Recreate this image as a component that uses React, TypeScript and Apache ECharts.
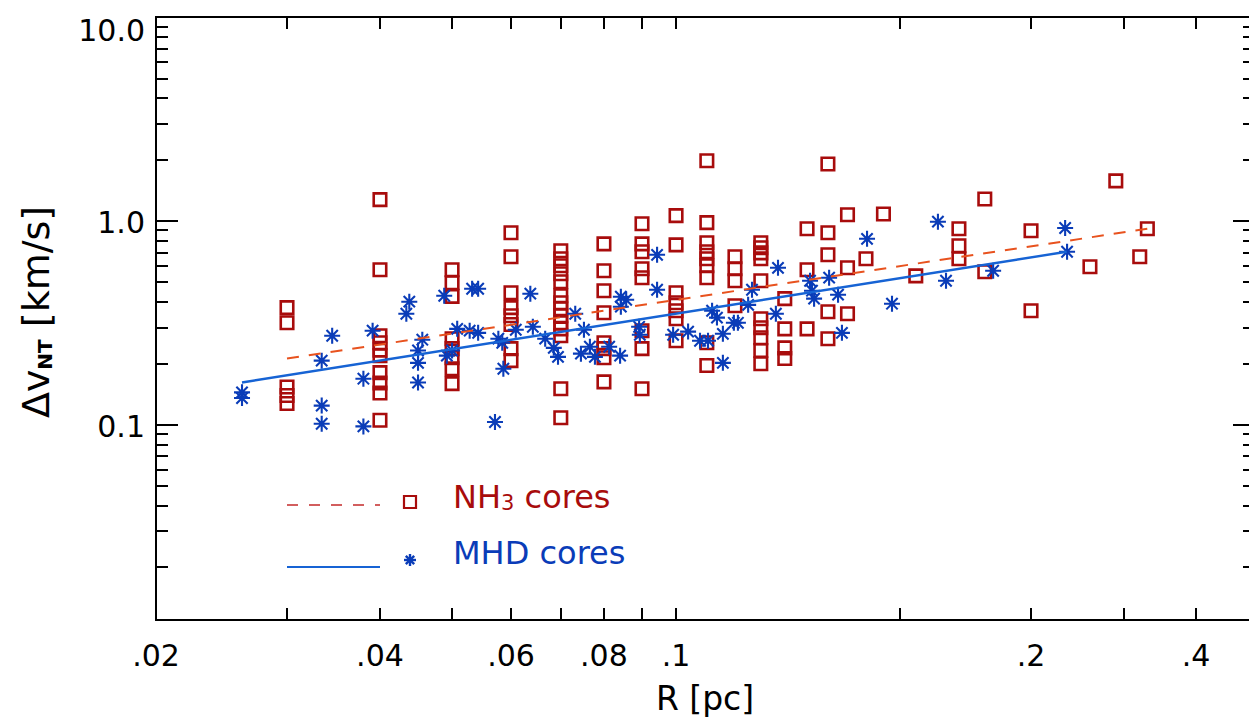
import React, { useEffect, useRef } from "react";
import * as echarts from "echarts";

// ---- axis ticks ----
const xTickValues = [0.02, 0.03, 0.04, 0.05, 0.06, 0.07, 0.08, 0.09, 0.1, 0.2, 0.3, 0.4, 0.5];
const xLabelValues = [0.02, 0.04, 0.06, 0.08, 0.1, 0.3, 0.5];
const xLabelTexts = [".02", ".04", ".06", ".08", ".1", ".2", ".4"];
const yMajorValues = [0.1, 1, 10];
const yMajorTexts = ["0.1", "1.0", "10.0"];
const yMinorValues = [
  0.02, 0.03, 0.04, 0.05, 0.06, 0.07, 0.08, 0.09,
  0.2, 0.3, 0.4, 0.5, 0.6, 0.7, 0.8, 0.9,
  2, 3, 4, 5, 6, 7, 8, 9,
];
const xRange = [0.02, 0.6];
const yRange = [0.011, 10];

// ---- NH3 cores (squares) ----
const nh3R = [
  0.03, 0.03, 0.03, 0.03, 0.03,
  0.04, 0.04, 0.04, 0.04, 0.04, 0.04, 0.04, 0.04, 0.04, 0.04,
  0.05, 0.05, 0.05, 0.05, 0.05, 0.05, 0.05, 0.05,
  0.06, 0.06, 0.06, 0.06, 0.06, 0.06, 0.06, 0.06,
  0.07, 0.07, 0.07, 0.07, 0.07, 0.07, 0.07, 0.07, 0.07, 0.07, 0.07, 0.07, 0.07, 0.07,
  0.08, 0.08, 0.08, 0.08, 0.08, 0.08, 0.08, 0.08,
  0.09, 0.09, 0.09, 0.09, 0.09, 0.09, 0.09, 0.09,
  0.1, 0.1, 0.1, 0.1, 0.1, 0.1, 0.1,
  0.11, 0.11, 0.11, 0.11, 0.11, 0.11, 0.11, 0.11, 0.11,
  0.12, 0.12, 0.12, 0.12,
  0.13, 0.13, 0.13, 0.13, 0.13, 0.13, 0.13, 0.13, 0.13, 0.13,
  0.14, 0.14, 0.14, 0.14,
  0.15, 0.15, 0.15,
  0.16, 0.16, 0.16, 0.16, 0.16,
  0.17, 0.17, 0.17,
  0.18, 0.19, 0.21,
  0.24, 0.24, 0.24,
  0.26, 0.26,
  0.3, 0.3,
  0.36, 0.39, 0.42, 0.43,
];
const nh3V = [
  0.375, 0.316, 0.153, 0.139, 0.127,
  1.27, 0.575, 0.273, 0.252, 0.232, 0.218, 0.180, 0.160, 0.143, 0.105,
  0.575, 0.497, 0.426, 0.264, 0.236, 0.213, 0.188, 0.159,
  0.874, 0.666, 0.444, 0.375, 0.342, 0.310, 0.236, 0.206,
  0.713, 0.651, 0.602, 0.550, 0.502, 0.429, 0.396, 0.370, 0.342, 0.316, 0.295, 0.273, 0.150, 0.108,
  0.771, 0.569, 0.454, 0.354, 0.252, 0.236, 0.213, 0.162,
  0.967, 0.771, 0.705, 0.582, 0.526, 0.289, 0.236, 0.150,
  1.06, 0.762, 0.444, 0.396, 0.362, 0.331, 0.258,
  1.97, 0.98, 0.780, 0.705, 0.651, 0.602, 0.526, 0.252, 0.195,
  0.666, 0.582, 0.508, 0.383,
  0.780, 0.738, 0.696, 0.651, 0.508, 0.331, 0.299, 0.267, 0.231, 0.199,
  0.415, 0.295, 0.238, 0.211,
  0.914, 0.575, 0.295,
  1.90, 0.874, 0.681, 0.358, 0.264,
  1.07, 0.588, 0.350,
  0.651, 1.08, 0.537,
  0.914, 0.754, 0.651,
  1.28, 0.562,
  0.894, 0.362,
  0.595, 1.57, 0.666, 0.914,
];

// ---- MHD cores (asterisks) ----
const mhdR = [
  0.0261, 0.0261, 0.0334, 0.0334, 0.0334, 0.0345, 0.038, 0.038, 0.0391,
  0.0434, 0.0438, 0.045, 0.045, 0.045, 0.0456, 0.0488, 0.0508, 0.05, 0.0492,
  0.0532, 0.0542, 0.0528, 0.0542, 0.0577, 0.0584, 0.0586, 0.0571,
  0.0609, 0.0637, 0.0642, 0.0667, 0.0685, 0.0694,
  0.0732, 0.0752, 0.0745, 0.0766, 0.0778, 0.0813, 0.0841,
  0.0843, 0.0857, 0.0843, 0.0943, 0.0943, 0.0892, 0.0894,
  0.0991, 0.1038, 0.1077, 0.1104, 0.1118, 0.1135, 0.1156, 0.1156,
  0.1196, 0.1211, 0.125, 0.1265, 0.1362, 0.1371,
  0.1514, 0.1523, 0.1533, 0.1606, 0.1651, 0.1671, 0.1806, 0.1951,
  0.2249, 0.2306, 0.2668, 0.3334, 0.3354,
];
const mhdV = [
  0.144, 0.135, 0.206, 0.124, 0.101, 0.273, 0.168, 0.098, 0.289,
  0.350, 0.401, 0.231, 0.201, 0.161, 0.261, 0.429, 0.295, 0.231, 0.218,
  0.464, 0.464, 0.289, 0.282, 0.264, 0.252, 0.188, 0.103,
  0.292, 0.439, 0.302, 0.264, 0.238, 0.215,
  0.350, 0.292, 0.223, 0.241, 0.215, 0.241, 0.218,
  0.424, 0.410, 0.379, 0.681, 0.459, 0.302, 0.276,
  0.276, 0.286, 0.258, 0.258, 0.362, 0.335, 0.279, 0.201,
  0.316, 0.316, 0.387, 0.459, 0.350, 0.588,
  0.508, 0.454, 0.415, 0.526, 0.434, 0.282, 0.816, 0.392,
  0.99, 0.508, 0.569, 0.922, 0.705,
];

// ---- power-law fits ----
const nh3FitR = [0.03, 0.43];
const nh3FitV = [0.211, 0.914];
const mhdFitR = [0.0261, 0.335];
const mhdFitV = [0.161, 0.705];

const FONT = "DejaVu Sans";
const RED = "#a80c0c";
const BLUE = "#0a3cb8";
const FIT_RED = "#e8521e";
const FIT_BLUE = "#1663d4";
const STAR = "path://M0,5L10,5M5,0L5,10M1.46,1.46L8.54,8.54M1.46,8.54L8.54,1.46";

const lg = (v: number) => Math.log10(v);
const pick = (vals: number[], texts: string[], v: number) => {
  for (let i = 0; i < vals.length; i++) if (Math.abs(lg(vals[i]) - v) < 1e-6) return texts[i];
  return "";
};

export default function App() {
  const ref = useRef<HTMLDivElement>(null);
  useEffect(() => {
    if (!ref.current) return;
    const chart = echarts.init(ref.current, undefined, { renderer: "svg" });
    const axisLine = { show: true, onZero: false, lineStyle: { color: "#000", width: 2 } };
    const xBase = {
      type: "value",
      min: lg(xRange[0]),
      max: lg(xRange[1]),
      axisLine,
      splitLine: { show: false },
      axisTick: {
        show: true,
        inside: true,
        length: 12,
        customValues: xTickValues.map(lg),
        lineStyle: { color: "#000", width: 2 },
      },
    };
    const yBase = {
      type: "value",
      min: lg(yRange[0]),
      max: lg(yRange[1]),
      axisLine,
      splitLine: { show: false },
    };
    const majorTick = {
      show: true,
      inside: true,
      length: 22,
      customValues: yMajorValues.map(lg),
      lineStyle: { color: "#000", width: 2 },
    };
    const minorTick = {
      show: true,
      inside: true,
      length: 12,
      customValues: yMinorValues.map(lg),
      lineStyle: { color: "#000", width: 2 },
    };
    const starLines = [
      [-6, 0, 6, 0],
      [0, -6, 0, 6],
      [-4.2, -4.2, 4.2, 4.2],
      [-4.2, 4.2, 4.2, -4.2],
    ];
    const option = {
      animation: false,
      grid: { left: 156, top: 17, width: 1099, height: 603, containLabel: false, outerBoundsMode: "none" },
      xAxis: [
        {
          ...xBase,
          position: "bottom",
          axisLabel: {
            show: true,
            customValues: xLabelValues.map(lg),
            formatter: (v: number) => pick(xLabelValues, xLabelTexts, v),
            fontFamily: FONT,
            fontSize: 30,
            color: "#000",
            margin: 20,
          },
        },
        { ...xBase, position: "top", axisLabel: { show: false } },
      ],
      yAxis: [
        {
          ...yBase,
          position: "left",
          axisTick: majorTick,
          axisLabel: {
            show: true,
            customValues: yMajorValues.map(lg),
            formatter: (v: number) => {
              const t = pick(yMajorValues, yMajorTexts, v);
              return Math.abs(v - 1) < 1e-6 ? `{top|${t}}` : `{n|${t}}`;
            },
            fontFamily: FONT,
            fontSize: 30,
            color: "#000",
            margin: 11,
            rich: {
              top: { fontFamily: FONT, fontSize: 30, color: "#000", padding: [26, 0, 0, 0] },
              n: { fontFamily: FONT, fontSize: 30, color: "#000", padding: [4, 0, 0, 0] },
            },
          },
        },
        { ...yBase, position: "left", axisTick: minorTick, axisLabel: { show: false } },
        { ...yBase, position: "right", axisTick: majorTick, axisLabel: { show: false } },
        { ...yBase, position: "right", axisTick: minorTick, axisLabel: { show: false } },
      ],
      series: [
        {
          name: "NH3 cores",
          type: "scatter",
          symbol: "rect",
          symbolSize: 12.5,
          itemStyle: { color: "rgba(0,0,0,0)", borderColor: RED, borderWidth: 2.6, opacity: 1 },
          data: nh3R.map((r, i) => [lg(r), lg(nh3V[i])]),
          z: 2,
        },
        {
          name: "MHD cores",
          type: "scatter",
          symbol: STAR,
          symbolSize: 16,
          itemStyle: { color: BLUE, borderColor: BLUE, borderWidth: 2.1, opacity: 1 },
          data: mhdR.map((r, i) => [lg(r), lg(mhdV[i])]),
          z: 3,
        },
        {
          name: "NH3 fit",
          type: "line",
          showSymbol: false,
          symbol: "none",
          lineStyle: { color: FIT_RED, width: 2, type: [12, 10] },
          data: nh3FitR.map((r, i) => [lg(r), lg(nh3FitV[i])]),
          z: 4,
        },
        {
          name: "MHD fit",
          type: "line",
          showSymbol: false,
          symbol: "none",
          lineStyle: { color: FIT_BLUE, width: 2.4 },
          data: mhdFitR.map((r, i) => [lg(r), lg(mhdFitV[i])]),
          z: 4,
        },
      ],
      graphic: [
        // legend: NH3
        { type: "line", shape: { x1: 287, y1: 505, x2: 380, y2: 505 }, style: { stroke: "#c42a2a", lineWidth: 1.6, lineDash: [11, 11] } },
        { type: "rect", shape: { x: 404, y: 496, width: 12, height: 12 }, style: { fill: "none", stroke: RED, lineWidth: 2.2 } },
        {
          type: "text",
          x: 453,
          y: 497,
          style: {
            text: "{a|NH}{s|3}{a| cores}",
            fill: RED,
            verticalAlign: "middle",
            align: "left",
            rich: {
              a: { fontFamily: FONT, fontSize: 32, fill: RED, lineHeight: 32 },
              s: { fontFamily: FONT, fontSize: 21, fill: RED, lineHeight: 10, verticalAlign: "bottom" },
            },
          },
        },
        // legend: MHD
        { type: "line", shape: { x1: 287, y1: 567, x2: 380, y2: 567 }, style: { stroke: FIT_BLUE, lineWidth: 2 } },
        {
          type: "group",
          x: 410,
          y: 560,
          children: starLines.map((s) => ({
            type: "line",
            shape: { x1: s[0], y1: s[1], x2: s[2], y2: s[3] },
            style: { stroke: BLUE, lineWidth: 2.4 },
          })),
        },
        {
          type: "text",
          x: 453,
          y: 553,
          style: { text: "MHD cores", fill: BLUE, fontFamily: FONT, fontSize: 32, verticalAlign: "middle", align: "left" },
        },
        // axis titles
        {
          type: "text",
          x: 705,
          y: 698,
          style: { text: "R [pc]", fill: "#000", fontFamily: FONT, fontSize: 33, align: "center", verticalAlign: "middle" },
        },
        {
          type: "text",
          x: 36,
          y: 312,
          rotation: Math.PI / 2,
          style: {
            text: "{a|\u0394v}{s|NT}{a| [km/s]}",
            fill: "#000",
            align: "center",
            verticalAlign: "middle",
            rich: {
              a: { fontFamily: FONT, fontSize: 38, fill: "#000", lineHeight: 38 },
              s: { fontFamily: FONT, fontSize: 20, fontWeight: "bold", fill: "#000", lineHeight: 14, verticalAlign: "bottom" },
            },
          },
        },
      ],
    };
    chart.setOption(option as any);
    return () => chart.dispose();
  }, []);
  return (
    <div
      ref={ref}
      style={{ position: "absolute", left: 0, top: 0, width: 1249, height: 724, background: "#fff" }}
    />
  );
}
